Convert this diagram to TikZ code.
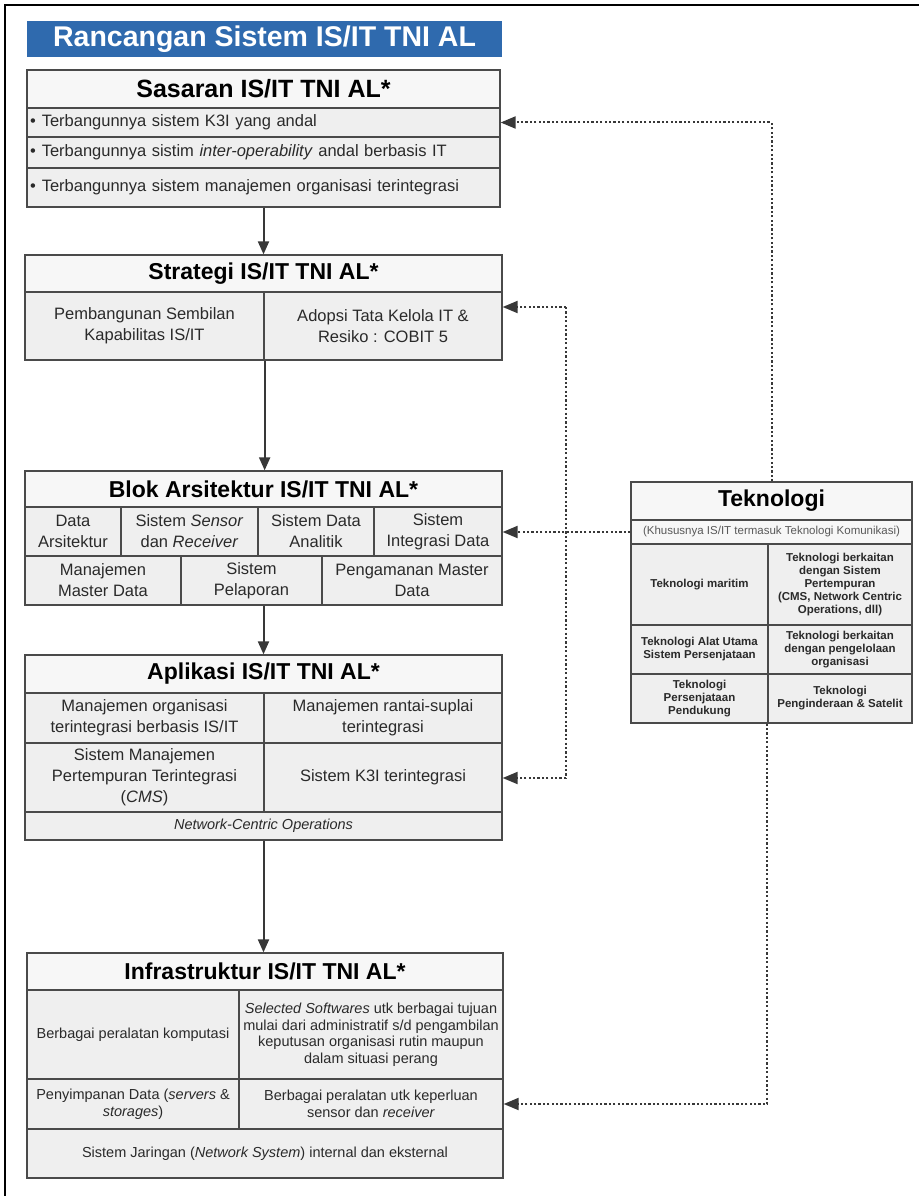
\documentclass[tikz,border=0pt]{standalone}
\usepackage{fontspec}
\setmainfont{Liberation Sans}
\usetikzlibrary{arrows.meta}
\definecolor{bord}{HTML}{4A4A4A}
\definecolor{cellbg}{HTML}{EFEFEF}
\definecolor{headbg}{HTML}{F7F7F7}
\definecolor{txt}{HTML}{2A2A2A}
\definecolor{banner}{HTML}{2F6AAE}
\definecolor{conn}{HTML}{383838}
\newcommand\fs[2]{\fontsize{#1}{#2}\selectfont}
\newcommand\cellbox[7]{%
  \pgfmathsetmacro\cw{#4-#2}\pgfmathsetmacro\ch{#5-#3}%
  \node[#6, minimum width=\cw pt, minimum height=\ch pt] (#1) at ({(#2+#4)/2},{(#3+#5)/2}) {#7};}
\begin{document}
\begin{tikzpicture}[x=1pt,y=-1pt,
  box/.style={draw=bord, line width=1.3pt, inner sep=0pt, align=center, text=txt},
  head/.style={box, fill=headbg, font=\bfseries\fs{23}{26}, text=black},
  cellS/.style={box, fill=cellbg, font=\fs{16.5}{20}, text width=467pt, align=left},
  cellA/.style={box, fill=cellbg, font=\fs{16.5}{21}},
  cellI/.style={box, fill=cellbg, font=\fs{14.5}{16.5}},
  cellT/.style={box, fill=cellbg, font=\bfseries\fs{11.5}{13}},
  arr/.style={draw=conn, line width=2pt, -{Triangle[length=13pt,width=11pt]}},
  dotc/.style={draw=conn, line width=2pt, dash pattern=on 2.2pt off 2.2pt},
  dotarr/.style={dotc, -{Triangle[length=15pt,width=12pt]}}]
\useasboundingbox (0,0) rectangle (919,1196);
\fill[white] (0,0) rectangle (919,1196);
\draw[line width=1.5pt, black] (5,1196) -- (5,5) -- (919,5);
% title banner
\cellbox{title}{27}{21}{502}{57}{fill=banner, inner sep=0pt, text=white, font=\bfseries\fs{28.5}{30}}{Rancangan Sistem IS/IT TNI AL}
% Sasaran
\cellbox{sasH}{27}{70}{500}{108}{head, font=\bfseries\fs{25}{27}}{Sasaran IS/IT TNI AL*}
\cellbox{sas1}{27}{108}{500}{137}{cellS}{\textbullet\hspace{6pt}Terbangunnya sistem K3I yang andal}
\cellbox{sas2}{27}{137}{500}{168}{cellS}{\textbullet\hspace{6pt}Terbangunnya sistim \textit{inter-operability} andal berbasis IT}
\cellbox{sas3}{27}{168}{500}{207}{cellS}{\textbullet\hspace{6pt}Terbangunnya sistem manajemen organisasi terintegrasi}
% Strategi
\cellbox{stH}{25}{255}{502}{292}{head}{Strategi IS/IT TNI AL*}
\cellbox{stL}{25}{292}{264}{360}{cellA}{Pembangunan Sembilan\\Kapabilitas  IS/IT}
\cellbox{stR}{264}{292}{502}{360}{cellA}{Adopsi Tata Kelola IT \&\\Resiko : COBIT 5}
% Blok Arsitektur
\cellbox{blH}{25}{471}{502}{507}{head}{Blok Arsitektur IS/IT TNI AL*}
\cellbox{bl1}{25}{507}{121}{556}{cellA}{Data\\Arsitektur}
\cellbox{bl2}{121}{507}{258}{556}{cellA}{Sistem \textit{Sensor}\\dan \textit{Receiver}}
\cellbox{bl3}{258}{507}{374}{556}{cellA}{Sistem Data\\Analitik}
\cellbox{bl4}{374}{507}{502}{556}{cellA}{Sistem\\Integrasi Data}
\cellbox{bl5}{25}{556}{181}{605}{cellA}{Manajemen\\Master Data}
\cellbox{bl6}{181}{556}{322}{605}{cellA}{Sistem\\Pelaporan}
\cellbox{bl7}{322}{556}{502}{605}{cellA}{Pengamanan Master\\Data}
% Aplikasi
\cellbox{apH}{25}{655}{502}{693}{head}{Aplikasi IS/IT TNI AL*}
\cellbox{ap1}{25}{693}{264}{743}{cellA}{Manajemen organisasi\\terintegrasi berbasis IS/IT}
\cellbox{ap2}{264}{693}{502}{743}{cellA}{Manajemen rantai-suplai\\terintegrasi}
\cellbox{ap3}{25}{743}{264}{812}{cellA}{Sistem Manajemen\\Pertempuran Terintegrasi\\(\textit{CMS})}
\cellbox{ap4}{264}{743}{502}{812}{cellA}{Sistem K3I terintegrasi}
\cellbox{ap5}{25}{812}{502}{840}{cellI}{\textit{Network-Centric Operations}}
% Infrastruktur
\cellbox{inH}{27}{953}{503}{990}{head}{Infrastruktur IS/IT TNI AL*}
\cellbox{in1}{27}{990}{239}{1079}{cellI}{Berbagai peralatan komputasi}
\cellbox{in2}{239}{990}{503}{1079}{cellI}{\textit{Selected Softwares} utk berbagai tujuan\\mulai dari administratif s/d pengambilan\\keputusan organisasi rutin maupun\\dalam situasi perang}
\cellbox{in3}{27}{1079}{239}{1129}{cellI}{Penyimpanan Data (\textit{servers} \&\\\textit{storages})}
\cellbox{in4}{239}{1079}{503}{1129}{cellI}{Berbagai peralatan utk keperluan\\sensor dan \textit{receiver}}
\cellbox{in5}{27}{1129}{503}{1178}{cellI}{Sistem Jaringan (\textit{Network System}) internal dan eksternal}
% Teknologi
\cellbox{tkH}{631}{482}{912}{520}{head}{Teknologi}
\cellbox{tkS}{631}{520}{912}{544}{box, fill=headbg, font=\fs{11.5}{12}, text=black!65}{(Khususnya IS/IT termasuk Teknologi Komunikasi)}
\cellbox{tk1}{631}{544}{768}{625}{cellT}{Teknologi maritim}
\cellbox{tk2}{768}{544}{912}{625}{cellT}{Teknologi berkaitan\\dengan Sistem\\Pertempuran\\(CMS, Network Centric\\Operations, dll)}
\cellbox{tk3}{631}{625}{768}{674}{cellT}{Teknologi Alat Utama\\Sistem Persenjataan}
\cellbox{tk4}{768}{625}{912}{674}{cellT}{Teknologi berkaitan\\dengan pengelolaan\\organisasi}
\cellbox{tk5}{631}{674}{768}{723}{cellT}{Teknologi\\Persenjataan\\Pendukung}
\cellbox{tk6}{768}{674}{912}{723}{cellT}{Teknologi\\Penginderaan \& Satelit}
% solid arrows
\draw[arr] (sas3.south) -- (sas3.south |- stH.north);
\draw[arr] (stL.south east) -- (stL.south east |- blH.north);
\draw[arr] (blH.center |- bl6.south) -- (blH.center |- apH.north);
\draw[arr] (ap5.south) -- (ap5.south |- inH.north);
% dotted connectors
\coordinate (jt) at (566,307);
\coordinate (jb) at (566,778);
\draw[dotarr] (tk6.south west) |- (in4.east);
\draw[dotarr] (tkH.north) |- (sas1.east);
\draw[dotc] (jt) -- (jb);
\draw[dotarr] (jt) -- (jt -| stR.east);
\draw[dotarr] (jb) -- (jb -| ap4.east);
\draw[dotarr] (tkS.west) -- (tkS.west -| bl4.east);
\end{tikzpicture}
\end{document}
